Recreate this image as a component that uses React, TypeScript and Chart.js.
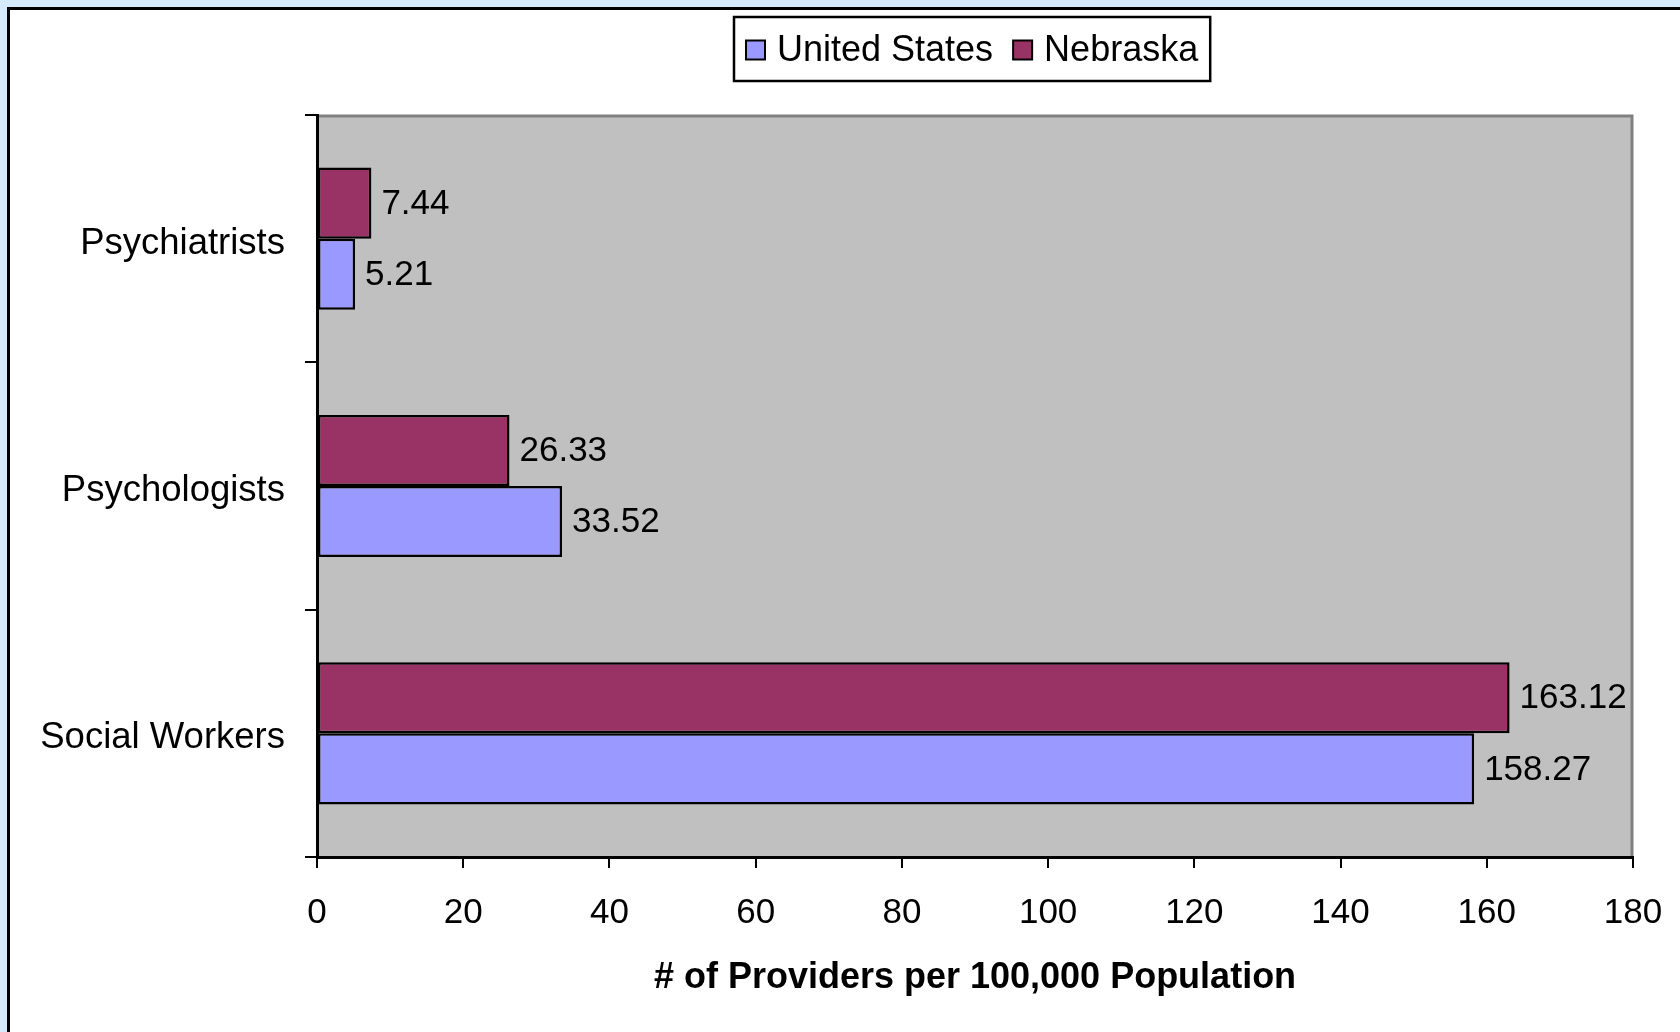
import React, { useEffect, useRef } from "react";
import { Chart, registerables } from "chart.js";

Chart.register(...registerables);

const categories = ["Psychiatrists", "Psychologists", "Social Workers"];
const seriesNames = ["United States", "Nebraska"];
const unitedStates = [5.21, 33.52, 158.27];
const nebraska = [7.44, 26.33, 163.12];
const xMin = 0;
const xMax = 180;
const xStep = 20;
const axisTitle = "# of Providers per 100,000 Population";

const US_COLOR = "#9999FF";
const NE_COLOR = "#993366";
const FONT = "'Liberation Sans', Arial, Helvetica, sans-serif";

const plotBackground = {
  id: "plotBackground",
  beforeDraw(chart: any) {
    const { ctx, chartArea: a } = chart;
    ctx.save();
    ctx.fillStyle = "#C0C0C0";
    ctx.fillRect(a.left, a.top, a.right - a.left, a.bottom - a.top);
    ctx.strokeStyle = "#808080";
    ctx.lineWidth = 3;
    ctx.beginPath();
    ctx.moveTo(a.left, a.top + 1);
    ctx.lineTo(a.right - 1, a.top + 1);
    ctx.lineTo(a.right - 1, a.bottom);
    ctx.stroke();
    ctx.restore();
  },
};

const valueLabels = {
  id: "valueLabels",
  afterDatasetsDraw(chart: any) {
    const { ctx } = chart;
    ctx.save();
    ctx.font = `35px ${FONT}`;
    ctx.fillStyle = "#000";
    ctx.textAlign = "left";
    ctx.textBaseline = "middle";
    chart.data.datasets.forEach((ds: any, di: number) => {
      const meta = chart.getDatasetMeta(di);
      meta.data.forEach((bar: any, i: number) => {
        const v = ds.data[i] as number;
        ctx.fillText(v.toFixed(2), bar.x + 10, bar.y + 1);
      });
    });
    ctx.restore();
  },
};

const boxedLegend = {
  id: "boxedLegend",
  afterDraw(chart: any) {
    const { ctx, chartArea: a } = chart;
    // legend order: United States first, then Nebraska (datasets reversed)
    const items = [...chart.data.datasets].reverse();
    ctx.save();
    ctx.font = `36px ${FONT}`;
    const sw = 19;
    const gap = 12;
    const itemGap = 20;
    const padX = 12;
    const widths = items.map((d: any) => sw + gap + ctx.measureText(d.label).width);
    const total = widths.reduce((s: number, w: number) => s + w, 0) + itemGap * (items.length - 1);
    const boxW = total + padX * 2;
    const boxTop = 17;
    const boxH = 64;
    const cx = (a.left + a.right) / 2 - 3;
    const boxLeft = Math.round(cx - boxW / 2);
    ctx.fillStyle = "#FFFFFF";
    ctx.fillRect(boxLeft, boxTop, boxW, boxH);
    ctx.strokeStyle = "#000";
    ctx.lineWidth = 2.5;
    ctx.strokeRect(boxLeft, boxTop, boxW, boxH);
    let x = boxLeft + padX;
    const cy = boxTop + boxH / 2 + 1;
    items.forEach((d: any, i: number) => {
      ctx.fillStyle = d.backgroundColor;
      ctx.fillRect(x, cy - sw / 2, sw, sw);
      ctx.lineWidth = 2;
      ctx.strokeStyle = "#000";
      ctx.strokeRect(x, cy - sw / 2, sw, sw);
      ctx.fillStyle = "#000";
      ctx.textAlign = "left";
      ctx.textBaseline = "middle";
      ctx.fillText(d.label, x + sw + gap, cy + 1);
      x += widths[i] + itemGap;
    });
    ctx.restore();
  },
};

export default function App() {
  const canvasRef = useRef<HTMLCanvasElement | null>(null);

  useEffect(() => {
    if (!canvasRef.current) return;
    const chart = new Chart(canvasRef.current, {
      type: "bar",
      data: {
        labels: categories,
        datasets: [
          {
            label: seriesNames[1],
            data: nebraska,
            backgroundColor: NE_COLOR,
            borderColor: "#000",
            borderWidth: 2.5,
            borderSkipped: false,
            barPercentage: 1,
            categoryPercentage: 0.575,
          },
          {
            label: seriesNames[0],
            data: unitedStates,
            backgroundColor: US_COLOR,
            borderColor: "#000",
            borderWidth: 2.5,
            borderSkipped: false,
            barPercentage: 1,
            categoryPercentage: 0.575,
          },
        ],
      },
      options: {
        indexAxis: "y",
        animation: false,
        responsive: false,
        maintainAspectRatio: false,
        devicePixelRatio: 1,
        layout: { padding: { left: 0, top: 115, right: 47, bottom: 0 } },
        plugins: {
          legend: { display: false },
          tooltip: { enabled: false },
          title: { display: false },
        },
        scales: {
          x: {
            type: "linear",
            min: xMin,
            max: xMax,
            afterFit: (s: any) => {
              s.height = 175;
              s.paddingLeft = 0;
              s.paddingRight = 0;
            },
            ticks: {
              stepSize: xStep,
              color: "#000",
              font: { family: FONT, size: 35 },
              padding: 24,
              maxRotation: 0,
            },
            grid: {
              drawOnChartArea: false,
              drawTicks: true,
              tickLength: 11,
              color: "#000",
              lineWidth: 2,
            },
            border: { display: true, color: "#000", width: 3 },
            title: {
              display: true,
              text: axisTitle,
              color: "#000",
              font: { family: FONT, size: 36, weight: "bold" },
              padding: { top: 0, bottom: 32 },
            },
          },
          y: {
            type: "category",
            offset: true,
            afterFit: (s: any) => {
              s.width = 317;
            },
            ticks: {
              color: "#000",
              font: { family: FONT, size: 36.5 },
              padding: 20,
              labelOffset: 5,
            },
            grid: {
              offset: true,
              drawOnChartArea: false,
              drawTicks: true,
              tickLength: 12,
              color: "#000",
              lineWidth: 2,
            },
            border: { display: true, color: "#000", width: 3 },
          },
        },
      },
      plugins: [plotBackground, valueLabels, boxedLegend],
    } as any);
    return () => chart.destroy();
  }, []);

  return (
    <div
      style={{
        position: "fixed",
        left: 0,
        top: 0,
        width: 1680,
        height: 1032,
        background: "#D5EBFB",
        overflow: "hidden",
      }}
    >
      <div
        style={{
          position: "absolute",
          left: 7,
          top: 7,
          width: 1800,
          height: 1200,
          border: "3px solid #000",
          background: "#FFFFFF",
        }}
      />
      <canvas
        ref={canvasRef}
        width={1680}
        height={1032}
        style={{ position: "absolute", left: 0, top: 0, width: 1680, height: 1032 }}
      />
    </div>
  );
}
